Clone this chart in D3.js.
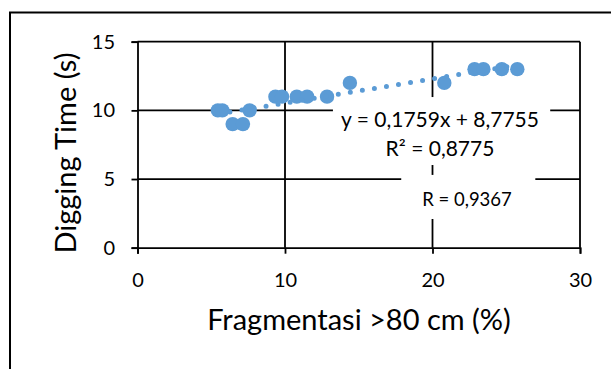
<!DOCTYPE html>
<html>
<head>
<meta charset="utf-8">
<script src="https://cdn.jsdelivr.net/npm/d3@7"></script>
<style>
  body { margin: 0; background: #fff; }
  svg { display: block; font-family: Lato, "Open Sans", sans-serif; }
</style>
</head>
<body>
<svg id="chart" width="611" height="369"></svg>
<script>
// fragmentasi > 80 cm (%) vs digging time (s)
const fragmentasi = [5.45, 5.75, 6.45, 7.15, 7.6, 9.35, 9.8, 10.8, 11.5, 12.85, 14.4, 20.8, 22.85, 23.45, 24.7, 25.75];
const diggingTime = [10, 10, 9, 9, 10, 11, 11, 11, 11, 11, 12, 12, 13, 13, 13, 13];
const xTicks = [0, 10, 20, 30];
const yTicks = [0, 5, 10, 15];
const slope = 0.1759, intercept = 8.7755;
const eqLabel = "y = 0,1759x + 8,7755";
const r2Label = "R² = 0,8775";
const rLabel = "R = 0,9367";

const width = 611, height = 369;
const marginLeft = 137.5, marginRight = 31, marginTop = 41.7, marginBottom = 121.3;
const blue = "#5B9BD5";

const svg = d3.select("#chart");

const x = d3.scaleLinear().domain([0, 30]).range([marginLeft, width - marginRight]);
const y = d3.scaleLinear().domain([0, 15]).range([height - marginBottom, marginTop]);

// outer chart border (runs off the picture right / bottom)
svg.append("rect")
  .attr("x", 10).attr("y", 12.5)
  .attr("width", 640).attr("height", 400)
  .attr("fill", "none").attr("stroke", "#000").attr("stroke-width", 2);

// gridlines
svg.append("g").selectAll("line")
  .data(yTicks.slice(1))
  .join("line")
  .attr("x1", x(0)).attr("x2", x(30))
  .attr("y1", d => y(d)).attr("y2", d => y(d))
  .attr("stroke", "#000").attr("stroke-width", 1.8);
svg.append("g").selectAll("line")
  .data(xTicks.slice(1))
  .join("line")
  .attr("x1", d => x(d)).attr("x2", d => x(d))
  .attr("y1", y(0)).attr("y2", y(15))
  .attr("stroke", "#000").attr("stroke-width", 1.8);

// axes
const yAxis = svg.append("g")
  .attr("transform", `translate(${marginLeft},0)`)
  .call(d3.axisLeft(y).tickValues(yTicks).tickSize(6).tickPadding(16.5));
const xAxis = svg.append("g")
  .attr("transform", `translate(0,${y(0)})`)
  .call(d3.axisBottom(x).tickValues(xTicks).tickSize(6).tickPadding(19));
[xAxis, yAxis].forEach(a => {
  a.select(".domain").attr("stroke", "#000").attr("stroke-width", 1.8);
  a.selectAll(".tick line").attr("stroke", "#000").attr("stroke-width", 1.8);
  a.selectAll(".tick text").attr("fill", "#000").style("font-size", "20px").style("font-family", "Lato");
});

// label boxes hide the grid behind them
svg.append("rect")
  .attr("x", x(13.25)).attr("y", y(10.97))
  .attr("width", x(27.98) - x(13.25)).attr("height", y(6.02) - y(10.97))
  .attr("fill", "#fff");
svg.append("rect")
  .attr("x", x(17.88)).attr("y", y(5.3))
  .attr("width", x(26.97) - x(17.88)).attr("height", y(2.09) - y(5.3))
  .attr("fill", "#fff");

// markers
svg.append("g").selectAll("circle")
  .data(fragmentasi.map((f, i) => [f, diggingTime[i]]))
  .join("circle")
  .attr("cx", d => x(d[0])).attr("cy", d => y(d[1]))
  .attr("r", 7.2)
  .attr("fill", blue);

// linear trendline, round dots
const xMin = d3.min(fragmentasi), xMax = d3.max(fragmentasi);
svg.append("line")
  .attr("x1", x(xMin)).attr("y1", y(slope * xMin + intercept))
  .attr("x2", x(xMax)).attr("y2", y(slope * xMax + intercept))
  .attr("stroke", blue).attr("stroke-width", 5)
  .attr("stroke-linecap", "round")
  .attr("stroke-dasharray", "0 12.2");

// trendline labels
const lab = svg.append("g").attr("fill", "#000").style("font-size", "21px").attr("text-anchor", "middle");
lab.append("text").attr("x", 440).attr("y", 127).text(eqLabel);
lab.append("text").attr("x", 440).attr("y", 156).text(r2Label);
lab.append("text").attr("x", 467).attr("y", 206).style("font-size", "18.5px").text(rLabel);

// axis titles
svg.append("text")
  .attr("x", 359).attr("y", 330)
  .attr("text-anchor", "middle")
  .style("font-size", "29px")
  .text("Fragmentasi >80 cm (%)");
svg.append("text")
  .attr("transform", "translate(76,153) rotate(-90)")
  .attr("text-anchor", "middle")
  .style("font-size", "29px")
  .text("Digging Time (s)");
</script>
</body>
</html>
